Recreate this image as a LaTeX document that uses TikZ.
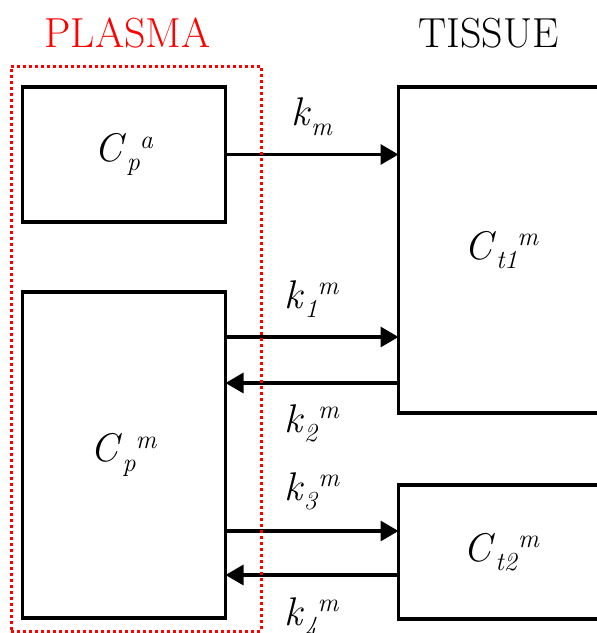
\documentclass[tikz,border=0pt]{standalone}
\usetikzlibrary{arrows.meta}
\definecolor{PlasmaRed}{RGB}{255,0,0}
\newcommand{\conc}[3]{\textit{#1}\raisebox{-0.24em}{\fontsize{26}{26}\selectfont\textit{#2}}\raisebox{0.33em}{\fontsize{26}{26}\selectfont\textit{#3}}}

\begin{document}
\begin{tikzpicture}[x=1pt,y=1pt,
	box/.style={draw,line width=3.3pt,inner sep=0pt,outer sep=0pt,font=\fontsize{40}{48}\selectfont},
	flow/.style={line width=3.3pt,-{Triangle[length=18pt,width=20pt]}},
	rate/.style={font=\fontsize{40}{48}\selectfont,anchor=base,inner sep=0pt}]
				\useasboundingbox (0,0) rectangle (597,-633);
				
				\node[font=\fontsize{42}{50}\selectfont,text=PlasmaRed,anchor=base] (plasma) at (127.5,-47) {PLASMA};
				\node[font=\fontsize{42}{50}\selectfont,anchor=base] (tissue) at (488.5,-47) {TISSUE};
				
				\node[box,minimum width=203pt,minimum height=135pt] (Cpa) at (124,-154.5) {\conc{C}{p}{a}};
				\node[box,minimum width=203pt,minimum height=326pt] (Cpm) at (124,-455) {\conc{C}{p}{m}};
				\node[box,minimum width=206pt,minimum height=326pt] (Ct1) at (501.5,-250) {\conc{C}{t1}{m}};
				\node[box,minimum width=206pt,minimum height=134pt] (Ct2) at (501.5,-552) {\conc{C}{t2}{m}};
				
				\coordinate (k1r) at ([yshift=76pt]Ct1.south west);
				\coordinate (k2r) at ([yshift=30pt]Ct1.south west);
				\coordinate (k3r) at ([yshift=-46pt]Ct2.north west);
				\coordinate (k4r) at ([yshift=44pt]Ct2.south west);
				
				\draw[flow] (Cpa.east) -- (Cpa.east -| Ct1.west) node[rate,midway,yshift=29pt] {\conc{k}{m}{}};
				\draw[flow] (k1r -| Cpm.east) -- (k1r) node[rate,midway,yshift=29pt] {\conc{k}{1}{m}};
				\draw[flow] (k2r) -- (k2r -| Cpm.east) node[rate,midway,yshift=-49pt] {\conc{k}{2}{m}};
				\draw[flow] (k3r -| Cpm.east) -- (k3r) node[rate,midway,yshift=31pt] {\conc{k}{3}{m}};
				\draw[flow] (k4r) -- (k4r -| Cpm.east) node[rate,midway,yshift=-50pt] {\conc{k}{4}{m}};
				
				\node[draw=PlasmaRed,line width=3pt,dash pattern=on 3pt off 3pt,inner sep=0pt,
				minimum width=250pt,minimum height=565pt] (plasmabox) at (136,-348.5) {};
			\end{tikzpicture}
\end{document}
